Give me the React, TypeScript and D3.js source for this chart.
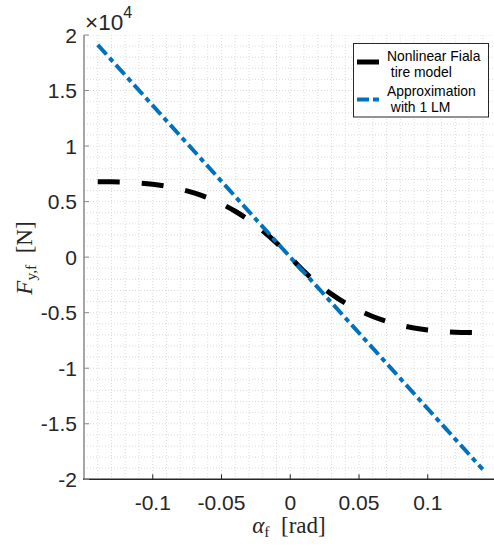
import React from "react";
import * as d3 from "d3";

// Nonlinear Fiala tire model samples
const alphaFiala = [
  -0.14, -0.13, -0.12, -0.11, -0.1, -0.09, -0.08, -0.07, -0.06, -0.05, -0.04, -0.03, -0.02, -0.01, 0,
  0.01, 0.02, 0.03, 0.04, 0.05, 0.06, 0.07, 0.08, 0.09, 0.1, 0.11, 0.12, 0.13, 0.14,
];
const forceFiala = [
  6799, 6787, 6751, 6679, 6559, 6377, 6123, 5783, 5345, 4799, 4131, 3329, 2381, 1276, 0,
  -1276, -2381, -3329, -4131, -4799, -5345, -5783, -6123, -6377, -6559, -6679, -6751, -6787, -6799,
];
// Linear approximation with 1 LM
const alphaLin = [-0.14, 0.14];
const forceLin = [19110, -19110];

const xTicks = [-0.1, -0.05, 0, 0.05, 0.1];
const xTickLabels = ["-0.1", "-0.05", "0", "0.05", "0.1"];
const yTicks = [-20000, -15000, -10000, -5000, 0, 5000, 10000, 15000, 20000];
const yTickLabels = ["-2", "-1.5", "-1", "-0.5", "0", "0.5", "1", "1.5", "2"];
const legendLabels = [["Nonlinear Fiala", " tire model"], ["Approximation", " with 1 LM"]];

const W = 494;
const H = 547;
const left = 84;
const top = 35;
const bottom = 479.3;

export default function App() {
  const x = d3.scaleLinear().domain([-0.15, 0.15]).range([left, left + 412.5]);
  const y = d3.scaleLinear().domain([-20000, 20000]).range([bottom, top]);
  const right = W;

  const minorX = d3.range(-15, 16).map((i) => i * 0.01);
  const minorY = d3.range(-20, 21).map((i) => i * 1000);

  const line = d3
    .line<[number, number]>()
    .x((d) => x(d[0]))
    .y((d) => y(d[1]))
    .curve(d3.curveMonotoneX);

  const fialaPath = line(alphaFiala.map((a, i) => [a, forceFiala[i]]) as [number, number][]) || "";
  const linPath = line(alphaLin.map((a, i) => [a, forceLin[i]]) as [number, number][]) || "";

  const tickFont = "'Liberation Sans', Arial, Helvetica, sans-serif";
  const serif = "'Liberation Serif', 'Times New Roman', serif";
  const tc = "#262626";

  return (
    <svg
      width={W}
      height={H}
      style={{ position: "fixed", left: 0, top: 0, background: "#fff" }}
      xmlns="http://www.w3.org/2000/svg"
    >
      <rect x={0} y={0} width={W} height={H} fill="#fff" />
      <defs>
        <clipPath id="plotclip">
          <rect x={left} y={top} width={right - left} height={bottom - top} />
        </clipPath>
      </defs>
      {/* grid */}
      <g stroke="#dcdcdc" strokeWidth={1} strokeDasharray="1 2" clipPath="url(#plotclip)">
        {minorX.map((v, i) => (
          <line key={"gx" + i} x1={x(v)} x2={x(v)} y1={top} y2={bottom} />
        ))}
        {minorY.map((v, i) => (
          <line key={"gy" + i} x1={left} x2={right} y1={y(v)} y2={y(v)} />
        ))}
      </g>
      {/* data */}
      <g clipPath="url(#plotclip)" fill="none">
        <path d={fialaPath} stroke="#000" strokeWidth={5} strokeDasharray="22 22" />
        <path d={linPath} stroke="#0072BD" strokeWidth={4} strokeDasharray="13 4.5 5 4.5" />
      </g>
      {/* axes */}
      <line x1={left} x2={left} y1={top} y2={bottom} stroke="#8a8a8a" strokeWidth={1.5} />
      <line x1={left - 0.75} x2={right} y1={bottom} y2={bottom} stroke={tc} strokeWidth={1.5} />
      {yTicks.map((v, i) => (
        <g key={"yt" + i}>
          <line x1={left} x2={left + 5} y1={y(v)} y2={y(v)} stroke="#8a8a8a" strokeWidth={1} />
          <text
            x={left - 7}
            y={y(v)}
            dy="0.36em"
            textAnchor="end"
            fontFamily={tickFont}
            fontSize={21}
            fill={tc}
          >
            {yTickLabels[i]}
          </text>
        </g>
      ))}
      {xTicks.map((v, i) => (
        <g key={"xt" + i}>
          <line x1={x(v)} x2={x(v)} y1={bottom} y2={bottom - 5} stroke={tc} strokeWidth={1} />
          <text x={x(v)} y={509.5} textAnchor="middle" fontFamily={tickFont} fontSize={21} fill={tc}>
            {xTickLabels[i]}
          </text>
        </g>
      ))}
      {/* exponent */}
      <text x={85} y={30} fontFamily={tickFont} fontSize={22.5} fill={tc}>
        ×10
        <tspan fontSize={16} dy={-12}>
          4
        </tspan>
      </text>
      {/* axis labels */}
      <text x={289} y={533} textAnchor="middle" fontFamily={serif} fontSize={23} fill={tc}>
        <tspan fontStyle="italic">α</tspan>
        <tspan fontSize={15.5} dy={4}>
          f
        </tspan>
        <tspan dy={-4}>{"\u2002[rad]"}</tspan>
      </text>
      <text
        transform={`translate(32,258) rotate(-90)`}
        textAnchor="middle"
        fontFamily={serif}
        fontSize={23}
        fill={tc}
      >
        <tspan fontStyle="italic">F</tspan>
        <tspan fontSize={15.5} dy={4}>
          y,f
        </tspan>
        <tspan dy={-4}>{"\u2002[N]"}</tspan>
      </text>
      {/* legend */}
      <rect x={353.5} y={43.5} width={135} height={73.5} fill="#fff" stroke={tc} strokeWidth={1} />
      <line x1={357} x2={379} y1={62} y2={62} stroke="#000" strokeWidth={5} />
      <line x1={357} x2={380} y1={99.5} y2={99.5} stroke="#0072BD" strokeWidth={4} strokeDasharray="12 4 6 4" />
      {legendLabels.map((lines, i) => (
        <text key={"lg" + i} fontFamily={tickFont} fontSize={13.9} fill="#000">
          <tspan x={387} y={60.7 + i * 35.3}>
            {lines[0]}
          </tspan>
          <tspan x={387} y={76.7 + i * 35.3} style={{ whiteSpace: "pre" }}>
            {lines[1]}
          </tspan>
        </text>
      ))}
    </svg>
  );
}
